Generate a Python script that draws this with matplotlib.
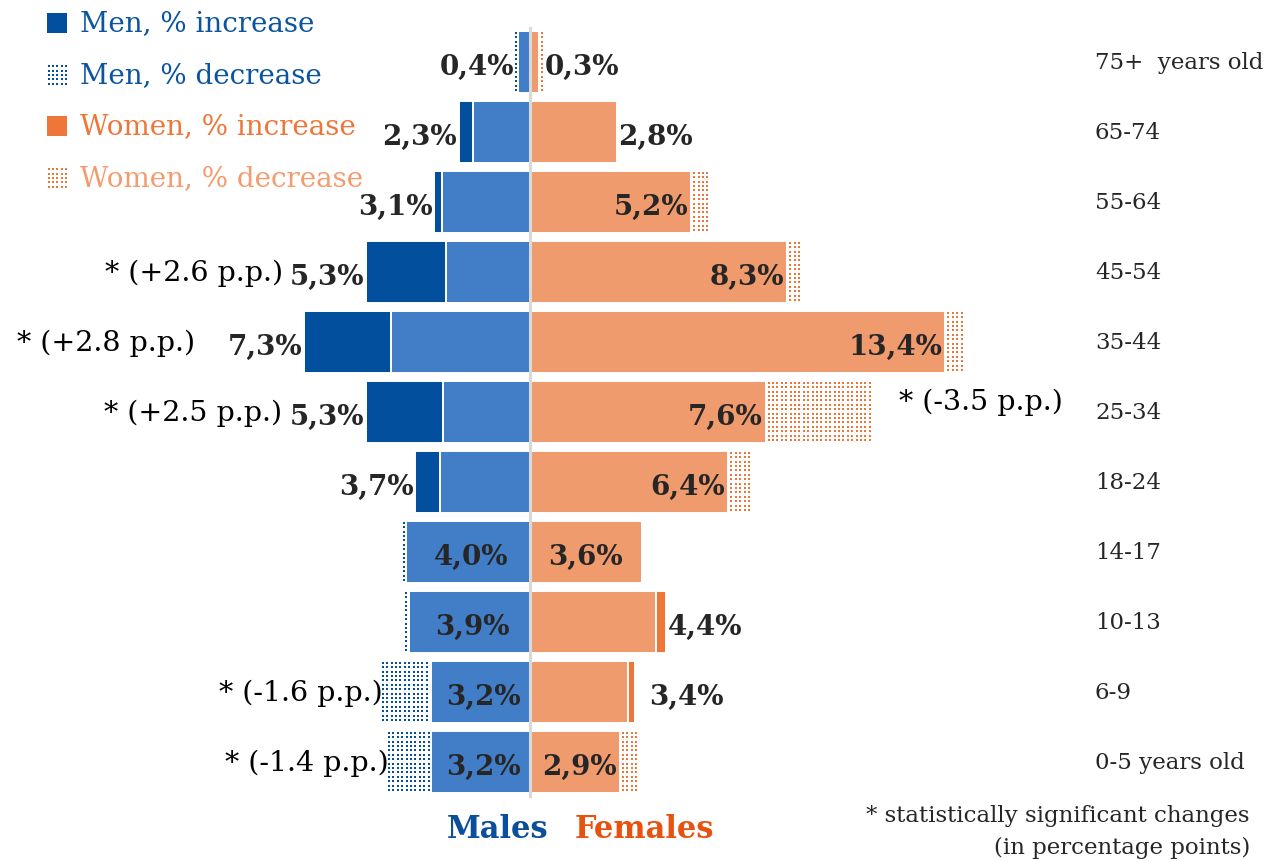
import matplotlib
matplotlib.use("Agg")
import matplotlib.pyplot as plt
import numpy as np

# ---- data ----
AGE_GROUPS = ["75+  years old", "65-74", "55-64", "45-54", "35-44", "25-34",
              "18-24", "14-17", "10-13", "6-9", "0-5 years old"]
MEN_PCT = [0.4, 2.3, 3.1, 5.3, 7.3, 5.3, 3.7, 4.0, 3.9, 3.2, 3.2]
MEN_CHANGE = [-0.05, 0.45, 0.25, 2.6, 2.8, 2.5, 0.8, -0.1, -0.15, -1.6, -1.4]
WOMEN_PCT = [0.3, 2.8, 5.2, 8.3, 13.4, 7.6, 6.4, 3.6, 4.4, 3.4, 2.9]
WOMEN_CHANGE = [-0.12, 0.0, -0.6, -0.4, -0.65, -3.5, -0.7, 0.0, 0.35, 0.25, -0.6]
SIGNIF_MEN = {3: "* (+2.6 p.p.)", 4: "* (+2.8 p.p.)", 5: "* (+2.5 p.p.)",
              9: "* (-1.6 p.p.)", 10: "* (-1.4 p.p.)"}
SIGNIF_WOMEN = {5: "* (-3.5 p.p.)"}

# ---- colours ----
BLUE_DARK = "#02509D"
BLUE_LIGHT = "#427DC8"
ORANGE_LIGHT = "#F09B6E"
ORANGE_DARK = "#EE7638"
TXT = "#262626"
SERIF = "DejaVu Serif"

W, H = 1281, 862
PX_PER_PCT = 31.0
X0 = 530            # pixel of the centre line
ROW0, ROW_STEP = 63, 70
DOT_STEP = 4.4      # px between dots of the "decrease" pattern

fig = plt.figure(figsize=(W / 100, H / 100), dpi=100)
ax = fig.add_axes([0, 0, 1, 1])
ax.set_xlim(-X0 / PX_PER_PCT, (W - X0) / PX_PER_PCT)
ax.set_ylim((H - ROW0) / ROW_STEP, -ROW0 / ROW_STEP)
ax.axis("off")

BAR_H = 62 / ROW_STEP
y = list(range(len(AGE_GROUPS)))


def px2x(px):
    return (px - X0) / PX_PER_PCT


def px2y(py):
    return (py - ROW0) / ROW_STEP


def solid(left, width, yy, color, h=BAR_H):
    ax.barh(yy, width, left=left, height=h, color=color,
            edgecolor="white", linewidth=1.4, zorder=2)


def dotted(x_a, x_b, yy, color, h=BAR_H):
    """Dot-pattern fill between x_a and x_b (data units)."""
    lo, hi = min(x_a, x_b), max(x_a, x_b)
    dx = DOT_STEP / PX_PER_PCT
    dy = DOT_STEP / ROW_STEP
    xs = np.arange(lo + dx * 0.35, hi, dx)
    if len(xs) == 0:
        xs = np.array([(lo + hi) / 2])
    ys = np.arange(yy - h / 2 + dy * 0.4, yy + h / 2, dy)
    gx, gy = np.meshgrid(xs, ys)
    ax.scatter(gx.ravel(), gy.ravel(), marker="s", s=3.6, color=color,
               linewidths=0, zorder=2)


# label placement per row ("out", "in", "mid")
MEN_LAB = ["out"] * 7 + ["mid"] * 4
WOMEN_LAB = ["out", "out", "in", "in", "in", "in", "in", "mid", "out", "out", "in"]
LBL = dict(fontsize=20, fontweight="bold", family=SERIF, color=TXT, zorder=4,
           va="center")

for i in y:
    # ---- men (negative side) ----
    tot, ch = MEN_PCT[i], MEN_CHANGE[i]
    if ch >= 0:
        solid(0, -(tot - ch), i, BLUE_LIGHT)
        if ch > 0:
            solid(-(tot - ch), -ch, i, BLUE_DARK)
        outer = tot
    else:
        solid(0, -tot, i, BLUE_LIGHT)
        dotted(-tot - 0.05, -tot + ch, i, BLUE_DARK)
        outer = tot - ch
    lab = f"{tot:.1f}".replace(".", ",") + "%"
    if MEN_LAB[i] == "out":
        ax.text(-outer - 0.05, i + 0.06, lab, ha="right", **LBL)
    else:
        ax.text(-tot / 2 + 0.1, i + 0.06, lab, ha="center", **LBL)

    # ---- women (positive side) ----
    tot, ch = WOMEN_PCT[i], WOMEN_CHANGE[i]
    if ch >= 0:
        solid(0, tot - ch, i, ORANGE_LIGHT)
        if ch > 0:
            solid(tot - ch, ch, i, ORANGE_DARK)
        outer = tot
    else:
        solid(0, tot, i, ORANGE_LIGHT)
        dotted(tot + 0.05, tot - ch, i, ORANGE_DARK)
        outer = tot - ch
    lab = f"{tot:.1f}".replace(".", ",") + "%"
    if WOMEN_LAB[i] == "out":
        gap = 0.45 if i == 9 else 0.05
        ax.text(outer + gap, i + 0.06, lab, ha="left", **LBL)
    elif WOMEN_LAB[i] == "in":
        ax.text(tot - 0.1, i + 0.06, lab, ha="right", **LBL)
    else:
        ax.text(tot / 2, i + 0.06, lab, ha="center", **LBL)

    # age labels on the right
    ax.text(px2x(1095), i, AGE_GROUPS[i], ha="left",
            va="center", fontsize=16.5, family=SERIF, color=TXT)

# significance notes
men_note_gap = {3: 2.65, 4: 3.5, 5: 2.7, 9: -0.05, 10: -0.05}
for i, txt in SIGNIF_MEN.items():
    outer = MEN_PCT[i] + max(-MEN_CHANGE[i], 0)
    ax.text(-outer - men_note_gap[i], i, txt, ha="right", va="center",
            fontsize=20.5, family=SERIF, color="black", zorder=3)
for i, txt in SIGNIF_WOMEN.items():
    outer = WOMEN_PCT[i] - WOMEN_CHANGE[i]
    ax.text(outer + 0.8, i - 0.15, txt, ha="left", va="center",
            fontsize=20.5, family=SERIF, color="black", zorder=3)

# centre line
ax.plot([0, 0], [-0.49, len(y) - 0.52], color="#D9D9D9", lw=2.2, zorder=3)

# ---- legend (drawn in pixel positions converted to data units) ----
legend_items = [
    ("Men, % increase", BLUE_DARK, False, "#0B55A0"),
    ("Men, % decrease", BLUE_DARK, True, "#0B55A0"),
    ("Women, % increase", ORANGE_DARK, False, "#EE7638"),
    ("Women, % decrease", ORANGE_DARK, True, "#F59C6E"),
]
sq_h = 20 / ROW_STEP
for k, (txt, col, hatched, tcol) in enumerate(legend_items):
    cy = px2y(24 + k * 51.5)
    if hatched:
        dotted(px2x(47), px2x(67), cy, col, h=sq_h)
    else:
        ax.barh(cy, px2x(67) - px2x(47), left=px2x(47), height=sq_h,
                color=col, linewidth=0, zorder=2)
    ax.text(px2x(80), cy, txt, ha="left", va="center", fontsize=20,
            family=SERIF, color=tcol)

# axis titles
ax.text(px2x(548), px2y(830), "Males", ha="right", va="center", fontsize=22,
        fontweight="bold", family=SERIF, color="#0B4F9C")
ax.text(px2x(575), px2y(830), "Females", ha="left", va="center", fontsize=22,
        fontweight="bold", family=SERIF, color="#E8520F")

# footnote
ax.text(px2x(1250), px2y(816), "* statistically significant changes", ha="right",
        va="center", fontsize=16.5, family=SERIF, color=TXT)
ax.text(px2x(1250), px2y(848), "(in percentage points)", ha="right",
        va="center", fontsize=16.5, family=SERIF, color=TXT)

fig.savefig("out.png", dpi=100)
